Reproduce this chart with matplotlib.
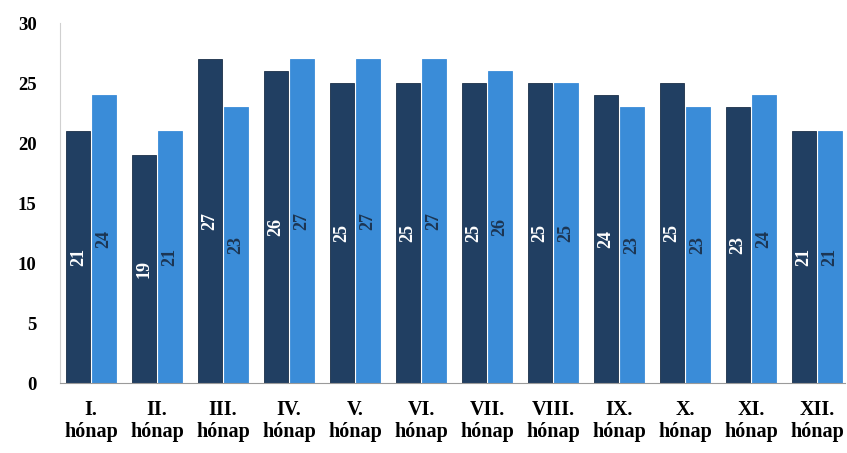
import matplotlib
matplotlib.use("Agg")
import matplotlib.pyplot as plt
import numpy as np

honapok = ["I.", "II.", "III.", "IV.", "V.", "VI.", "VII.", "VIII.", "IX.", "X.", "XI.", "XII."]
sor1 = [21, 19, 27, 26, 25, 25, 25, 25, 24, 25, 23, 21]
sor2 = [24, 21, 23, 27, 27, 27, 26, 25, 23, 23, 24, 21]

plt.rcParams['font.family'] = ['Liberation Serif', 'DejaVu Serif']

fig = plt.figure(figsize=(8.47, 4.53), dpi=100)
ax = fig.add_axes([0.071, 0.1545, 0.927, 0.7945])

x = np.arange(len(honapok))
w = 0.37
b1 = ax.bar(x - w / 2 - 0.01, sor1, w, color="#213f62", edgecolor="#1a2f48", linewidth=0.6)
b2 = ax.bar(x + w / 2 + 0.01, sor2, w, color="#3a8cd8", edgecolor="#3a8cd8", linewidth=0.6)

for r, v in zip(b1, sor1):
    ax.text(r.get_x() + r.get_width() / 2, v / 2, str(v), rotation=90, ha="center", va="center",
            color="white", fontsize=13, fontweight="bold")
for r, v in zip(b2, sor2):
    ax.text(r.get_x() + r.get_width() / 2, v / 2, str(v), rotation=90, ha="center", va="center",
            color="#1c3552", fontsize=13, fontweight="bold")

ax.set_xlim(-0.47, 11.43)
ax.set_ylim(0, 30)
ax.set_yticks(range(0, 31, 5))
ax.set_xticks(x)
ax.set_xticklabels([h + "\nhónap" for h in honapok], linespacing=1.15)
ax.tick_params(axis="x", length=0, labelsize=14.5, pad=12)
ax.tick_params(axis="y", length=0, labelsize=13.5, pad=17)
for lab in ax.get_xticklabels() + ax.get_yticklabels():
    lab.set_fontweight("bold")

for s in ["top", "right"]:
    ax.spines[s].set_visible(False)
ax.spines["left"].set_color("#d0d0d0")
ax.spines["bottom"].set_color("#9a9a9a")
ax.spines["left"].set_linewidth(0.8)
ax.spines["bottom"].set_linewidth(0.8)

fig.savefig("out.png", dpi=100)
